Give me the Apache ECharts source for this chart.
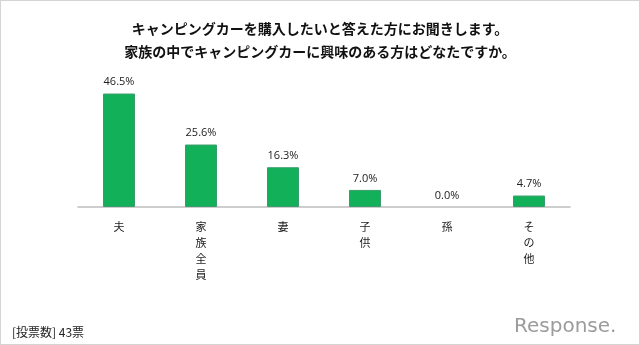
<!DOCTYPE html>
<html>
<head>
<meta charset="utf-8">
<script src="https://cdn.jsdelivr.net/npm/echarts@6/dist/echarts.min.js"></script>
<style>
  html, body { margin: 0; padding: 0; background: #ffffff; }
  #chart { width: 640px; height: 345px; box-sizing: border-box; border: 1px solid #d4d4d4; }
</style>
</head>
<body>
<div id="chart"></div>
<script>
// Survey answers: who in the family is interested in a camping car
const categories = ['夫', '家族全員', '妻', '子供', '孫', 'その他'];
const shares = [46.5, 25.6, 16.3, 7.0, 0.0, 4.7];
const titleLines = [
  'キャンピングカーを購入したいと答えた方にお聞きします。',
  '家族の中でキャンピングカーに興味のある方はどなたですか。'
];
const footnote = '[投票数] 43票';
const brand = 'Response.';

const jp = '"Noto Sans CJK JP", "Noto Sans", sans-serif';
const chart = echarts.init(document.getElementById('chart'), null, { renderer: 'canvas' });

// zero-height bars get no outline so nothing shows on the axis
const barData = shares.map(v => v === 0 ? { value: v, itemStyle: { borderWidth: 0 } } : v);

chart.setOption({
  backgroundColor: '#ffffff',
  animation: false,
  textStyle: { fontFamily: jp },
  title: {
    text: titleLines.join('\n'),
    left: 'center',
    top: 11,
    textStyle: { fontFamily: jp, fontSize: 14, fontWeight: 'bold', color: '#111111', lineHeight: 23 }
  },
  grid: { left: 77, right: 69, top: 84, bottom: 137 },
  xAxis: {
    type: 'category',
    data: categories,
    axisLine: { lineStyle: { color: '#bdbdbd', width: 1.5 } },
    axisTick: { show: false },
    axisLabel: {
      interval: 0,
      margin: 12,
      color: '#222222',
      fontSize: 11,
      lineHeight: 16,
      fontFamily: jp,
      verticalAlign: 'top',
      formatter: v => v.split('').join('\n')
    }
  },
  yAxis: {
    type: 'value',
    min: 0,
    max: 50,
    show: false,
    splitLine: { show: false }
  },
  series: [{
    type: 'bar',
    data: barData,
    barWidth: 32,
    itemStyle: { color: '#12b059', borderColor: '#3a9c6c', borderWidth: 1 },
    label: {
      show: true,
      position: 'top',
      distance: 6,
      fontSize: 11,
      color: '#222222',
      fontFamily: '"Open Sans", "Noto Sans", sans-serif',
      formatter: p => p.value.toFixed(1) + '%'
    }
  }],
  graphic: [
    {
      type: 'text',
      left: 11,
      top: 325,
      style: { text: footnote, font: '12px ' + jp, fill: '#222222' }
    },
    {
      type: 'text',
      left: 513,
      top: 316,
      style: {
        text: brand,
        font: '20px "DejaVu Sans", sans-serif',
        fill: '#9b9b9b'
      }
    }
  ]
});
</script>
</body>
</html>
